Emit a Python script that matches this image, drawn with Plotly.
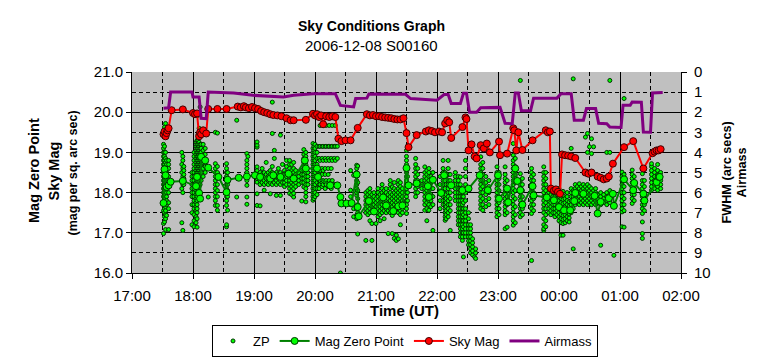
import plotly.graph_objects as go

# ---------------- data ----------------
airmass_times = ["17:31", "17:36", "17:38", "17:59", "18:00", "18:06", "18:08", "18:13", "18:15", "18:40",
                 "18:59", "19:29", "19:39", "19:58", "20:20", "20:25", "20:38", "20:40", "20:51", "20:53",
                 "21:29", "21:34", "22:00", "22:07", "22:11", "22:14", "22:23", "22:26", "22:29", "22:32",
                 "22:39", "22:43", "23:02", "23:07", "23:14", "23:17", "23:20", "23:23", "23:32", "23:35",
                 "23:58", "00:02", "00:12", "00:15", "00:24", "00:27", "00:36", "00:39", "00:47", "00:50",
                 "01:01", "01:03", "01:10", "01:12", "01:21", "01:23", "01:30", "01:32", "01:42"]
airmass_values = [1.80, 1.78, 1.00, 1.00, 1.24, 1.24, 2.30, 2.32, 1.00, 1.04,
                  1.16, 1.24, 1.16, 1.08, 1.08, 1.66, 1.74, 1.32, 1.30, 1.10,
                  1.11, 1.32, 1.40, 1.12, 1.12, 1.57, 1.57, 1.06, 1.06, 2.00,
                  2.00, 1.78, 1.76, 2.55, 2.57, 1.04, 1.04, 1.93, 1.93, 1.30,
                  1.30, 1.08, 1.08, 2.40, 2.40, 1.82, 1.82, 2.55, 2.57, 2.74,
                  2.76, 1.66, 1.66, 1.49, 1.50, 2.99, 3.00, 1.04, 1.02]

sky_times = ["17:31", "17:32", "17:33", "17:34", "17:35", "17:36", "17:39", "17:50", "18:00", "18:02",
             "18:04", "18:06", "18:07", "18:08", "18:10", "18:13", "18:15", "18:24", "18:33", "18:44",
             "18:47", "18:50", "18:52", "18:55", "18:58", "19:01", "19:04", "19:07", "19:10", "19:13",
             "19:16", "19:19", "19:23", "19:27", "19:32", "19:36", "19:39", "19:51", "19:58", "20:00",
             "20:02", "20:04", "20:06", "20:08", "20:11", "20:14", "20:17", "20:20", "20:23", "20:26",
             "20:30", "20:35", "20:42", "20:51", "20:54", "20:57", "21:00", "21:03", "21:06", "21:09",
             "21:12", "21:15", "21:18", "21:21", "21:24", "21:27", "21:30", "21:32", "21:40", "21:49",
             "21:52", "21:55", "21:58", "22:02", "22:05", "22:08", "22:10", "22:12", "22:14", "22:25",
             "22:28", "22:29", "22:31", "22:34", "22:37", "22:39", "22:43", "22:46", "22:49", "22:52",
             "23:01", "23:02", "23:09", "23:15", "23:16", "23:18", "23:20", "23:24", "23:34", "23:47",
             "23:49", "23:51", "23:52", "23:55", "23:57", "23:59", "00:01", "00:03", "00:06", "00:09",
             "00:12", "00:16", "00:26", "00:29", "00:32", "00:38", "00:41", "00:44", "00:47", "00:49",
             "00:53", "01:04", "01:13", "01:23", "01:32", "01:34", "01:36", "01:38", "01:40"]
sky_values = [19.45, 19.52, 19.40, 19.48, 19.55, 19.60, 20.05, 20.07, 19.98, 19.95,
              19.97, 19.40, 19.50, 19.45, 19.55, 19.47, 20.08, 20.08, 20.08, 20.14,
              20.12, 20.15, 20.12, 20.10, 20.13, 20.10, 20.08, 20.03, 20.00, 19.98,
              19.95, 19.93, 19.92, 19.90, 19.85, 19.80, 19.80, 19.81, 19.96, 19.92,
              19.95, 19.88, 19.92, 19.70, 19.90, 19.88, 19.90, 19.88, 19.34, 19.28,
              19.30, 19.30, 19.61, 19.95, 19.92, 19.93, 19.90, 19.90, 19.88, 19.87,
              19.86, 19.85, 19.83, 19.82, 19.82, 19.85, 19.48, 19.13, 19.43, 19.52,
              19.55, 19.53, 19.50, 19.52, 19.50, 19.72, 19.80, 19.75, 19.36, 19.63,
              19.87, 19.83, 19.05, 19.20, 18.90, 18.85, 19.18, 19.10, 19.22, 19.00,
              19.27, 18.93, 18.97, 19.60, 19.55, 19.05, 19.50, 19.06, 19.30, 19.55,
              19.50, 19.52, 18.10, 18.05, 18.08, 18.02, 17.97, 18.95, 18.93, 18.92,
              18.90, 18.86, 18.50, 18.47, 18.50, 18.40, 18.37, 18.33, 18.35, 18.40,
              18.72, 19.13, 19.28, 18.60, 18.98, 19.02, 19.05, 19.05, 19.08]

mzp_times = ["17:31", "17:32", "17:33", "17:34", "17:36", "17:38", "17:50", "18:03", "18:04", "18:06",
             "18:07", "18:08", "18:12", "18:15", "18:25", "18:33", "18:34", "18:45", "18:53", "19:01",
             "19:06", "19:16", "19:19", "19:26", "19:34", "19:39", "19:50", "19:51", "20:02", "20:03",
             "20:15", "20:22", "20:25", "20:26", "20:31", "20:36", "20:41", "20:42", "20:43", "20:53",
             "20:58", "21:07", "21:10", "21:17", "21:22", "21:26", "21:30", "21:32", "21:40", "21:51",
             "21:52", "21:56", "22:04", "22:07", "22:14", "22:25", "22:31", "22:42", "22:50", "23:00",
             "23:01", "23:09", "23:10", "23:17", "23:19", "23:22", "23:24", "23:34", "23:35", "23:48",
             "23:55", "00:00", "00:05", "00:11", "00:15", "00:16", "00:24", "00:35", "00:38", "00:41",
             "00:49", "00:53", "00:54", "01:04", "01:13", "01:14", "01:23", "01:24", "01:36", "01:38",
             "01:39"]
mzp_values = [17.74, 18.58, 18.43, 18.14, 18.18, 18.27, 18.29, 18.16, 18.39, 17.99,
              17.85, 18.89, 18.80, 18.62, 18.39, 18.01, 18.32, 18.37, 18.40, 18.43,
              18.39, 18.35, 18.43, 18.39, 18.47, 18.35, 18.80, 18.60, 18.60, 18.39,
              18.18, 18.18, 17.89, 17.73, 17.73, 17.74, 18.45, 17.64, 17.41, 17.79,
              17.53, 17.88, 17.68, 17.54, 17.66, 17.68, 18.61, 18.18, 18.23, 18.16,
              17.89, 18.32, 17.99, 18.43, 18.18, 18.06, 18.10, 18.43, 18.06, 18.43,
              17.85, 18.10, 17.76, 18.60, 18.29, 18.06, 17.70, 18.16, 17.93, 17.88,
              17.81, 17.64, 17.56, 17.56, 17.79, 17.99, 17.97, 17.92, 17.48, 17.77,
              17.86, 17.97, 17.67, 18.33, 18.06, 18.24, 17.97, 17.80, 18.26, 18.39,
              18.39]

# ZP: individual zero-point measurements, grouped by time stamp
zp_times = ["17:31", "17:32", "17:33", "17:34", "17:36", "17:49", "17:50", "17:51", "17:59", "18:01",
            "18:03", "18:04", "18:05", "18:06", "18:07", "18:08", "18:10", "18:12", "18:15", "18:22",
            "18:24", "18:33", "18:34", "18:43", "18:53", "18:54", "19:03", "19:06", "19:08", "19:10",
            "19:12", "19:14", "19:16", "19:18", "19:20", "19:22", "19:24", "19:26", "19:28", "19:30",
            "19:32", "19:35", "19:37", "19:39", "19:41", "19:44", "19:47", "19:49", "19:51", "19:53",
            "19:58", "19:59", "20:00", "20:02", "20:04", "20:05", "20:07", "20:08", "20:10", "20:11",
            "20:13", "20:14", "20:16", "20:17", "20:19", "20:20", "20:22", "20:25", "20:35", "20:38",
            "20:41", "20:42", "20:50", "20:52", "20:54", "20:56", "20:58", "21:00", "21:02", "21:04",
            "21:06", "21:08", "21:10", "21:12", "21:14", "21:16", "21:18", "21:20", "21:22", "21:24",
            "21:26", "21:30", "21:31", "21:39", "21:41", "21:45", "21:48", "21:50", "21:52", "21:54",
            "21:56", "22:03", "22:06", "22:08", "22:09", "22:11", "22:13", "22:18", "22:21", "22:23",
            "22:25", "22:26", "22:28", "22:31", "22:33", "22:35", "22:37", "22:38", "22:43", "22:45",
            "22:48", "22:51", "22:59", "23:01", "23:07", "23:09", "23:15", "23:17", "23:22", "23:24",
            "23:33", "23:35", "23:45", "23:47", "23:50", "23:52", "23:54", "23:56", "23:58", "00:00",
            "00:02", "00:04", "00:06", "00:08", "00:10", "00:12", "00:14", "00:16", "00:18", "00:20",
            "00:22", "00:24", "00:26", "00:28", "00:30", "00:32", "00:34", "00:36", "00:38", "00:41",
            "00:44", "00:47", "00:50", "00:54", "01:02", "01:04", "01:12", "01:14", "01:22", "01:24",
            "01:31", "01:34", "01:37", "01:40"]
zp_values = [
    [16.98, 17.23, 17.55, 17.75, 17.9, 18.0, 18.1, 18.2, 18.3, 18.4, 18.5, 18.6, 18.7, 18.8, 18.9, 19.0, 19.1, 19.2],
    [17.27, 17.4, 17.5, 17.6, 17.7, 17.8, 17.9, 18.0, 18.1, 18.2, 18.3, 18.4, 18.5, 18.6, 18.7, 18.8, 18.9, 19.0, 19.15, 19.63],
    [17.08, 17.35, 17.45, 17.55, 17.65, 17.75, 17.85, 17.95, 18.05, 18.15, 18.25, 18.35, 18.45, 18.55, 18.65, 18.75, 18.85, 19.0, 19.72],
    [17.43, 17.7, 17.8, 17.9, 18.0, 18.1, 18.2, 18.3, 18.4, 18.5, 18.6, 18.7, 18.8],
    [17.08, 17.6, 17.75, 18.0, 18.2, 18.4, 18.6, 18.7, 18.8],
    [17.25, 18.1, 18.3, 18.5, 18.7, 19.0],
    [17.06, 18.0, 18.2, 18.4, 18.6, 18.8, 18.9],
    [18.2, 18.35, 18.45, 18.55, 18.65],
    [17.2, 17.5, 17.7, 17.9, 18.0, 18.1, 18.2, 18.3, 18.4, 18.5],
    [17.15, 17.3, 17.45, 17.6, 17.7, 17.8, 17.9, 18.0, 18.1, 18.2, 18.3, 18.4, 18.5, 18.6, 18.7, 18.8, 18.9, 19.0],
    [17.25, 17.4, 17.55, 17.65, 17.75, 17.85, 17.95, 18.05, 18.15, 18.25, 18.35, 18.45, 18.55, 18.65, 18.75, 18.85, 18.95, 19.05, 19.15, 19.25],
    [17.14, 17.35, 17.5, 17.6, 17.7, 17.8, 17.9, 18.0, 18.1, 18.2, 18.3, 18.4, 18.5, 18.6, 18.7, 18.8, 18.9, 19.0, 19.1, 19.2, 19.3],
    [18.2, 18.3, 18.4, 18.5, 18.6, 18.7, 18.8, 18.9, 19.0, 19.1, 19.2, 19.3, 19.45, 19.92],
    [18.0, 18.15, 18.3, 18.45, 18.55, 18.65, 18.75, 18.85, 18.95, 19.05, 19.15, 19.25, 19.6],
    [17.9, 18.2, 18.4, 18.5, 18.6, 18.7, 18.8, 18.9, 19.0, 19.1, 19.2, 20.13],
    [18.3, 18.5, 18.6, 18.7, 18.8, 18.9, 19.0, 19.1, 19.2, 19.5],
    [18.4, 18.6, 18.75, 18.9, 19.05, 19.2],
    [18.5, 18.65, 18.8, 18.95, 19.1],
    [17.89],
    [17.68, 17.8, 17.9, 18.0, 18.1, 18.2, 18.3, 18.4, 18.5, 18.6, 18.72, 19.5],
    [17.56, 17.68, 17.9, 18.05, 18.2, 18.35, 18.5, 18.65, 19.48],
    [17.15, 17.2, 17.68, 17.8, 17.9, 18.0, 18.1, 18.2, 18.3, 18.4, 18.5, 18.6, 18.72],
    [17.56, 17.9, 18.05, 18.2, 18.35, 18.5],
    [17.89, 19.8],
    [17.71, 17.89, 18.18, 18.3, 18.4, 18.5, 18.6, 18.7, 18.8, 18.97],
    [18.9],
    [17.68, 17.97, 18.26, 18.35, 18.45, 18.55, 18.64, 19.13, 19.18, 19.26],
    [17.67, 18.2, 18.3, 18.4, 18.5],
    [18.25, 18.35, 18.45, 18.6],
    [18.06, 18.2, 18.3, 18.4, 18.5],
    [18.25, 18.35, 18.45, 18.75],
    [18.2, 18.3, 18.4, 18.5],
    [17.97, 18.25, 18.35, 18.45, 18.55],
    [18.2, 18.3, 18.4, 18.5, 18.65, 19.47, 20.25],
    [18.25, 18.35, 18.45, 18.85, 19.05],
    [17.93, 18.2, 18.3, 18.4, 18.5],
    [18.25, 18.35, 18.45, 18.6],
    [17.93, 18.2, 18.3, 18.4, 18.5, 19.43],
    [18.25, 18.35, 18.45, 18.7],
    [18.15, 18.25, 18.35, 18.45, 18.55],
    [18.2, 18.3, 18.4, 18.5, 18.65, 18.8],
    [17.98, 18.1, 18.2, 18.3, 18.4, 18.5, 18.6, 18.7, 18.8],
    [17.95, 18.05, 18.15, 18.25, 18.35, 18.45, 18.55, 18.7],
    [17.89, 17.98, 18.1, 18.2, 18.3, 18.4, 18.5, 18.6, 18.75],
    [18.15, 18.25, 18.35, 18.45, 18.55],
    [18.2, 18.3, 18.4, 18.5],
    [17.79, 18.25, 18.35, 18.45, 18.55],
    [18.14, 18.25, 18.35, 18.45, 18.55, 18.65, 18.75, 18.85, 18.95, 19.07],
    [17.77, 17.9, 18.0, 18.1, 18.2, 18.3, 18.4, 18.5, 18.6, 18.7, 18.8, 18.9, 19.0],
    [18.2, 18.3, 18.4, 18.5],
    [17.81, 17.9, 18.0, 18.1, 18.2, 18.3, 18.4, 18.5, 18.6, 18.7, 18.8, 18.9, 19.0, 19.1, 19.22],
    [17.85, 17.95, 18.05, 18.15, 18.25, 18.35, 18.45, 18.55, 18.65, 18.75, 18.85, 18.95, 19.05, 19.15],
    [17.9, 18.0, 18.1, 18.2, 18.3, 18.4, 18.5, 18.6, 18.7, 18.8, 18.9, 19.0, 19.1, 19.2],
    [17.95, 18.1, 18.25, 18.4, 18.55, 18.7, 18.85, 19.0, 19.15],
    [19.15, 18.85, 18.6, 18.45, 18.3, 18.2, 18.1],
    [19.67, 19.15, 18.8, 18.55, 18.3, 18.2],
    [19.15, 18.85, 18.6, 18.45, 18.25, 18.15],
    [19.67, 19.15, 18.8, 18.55, 18.3, 18.2],
    [19.15, 18.85, 18.6, 18.45, 18.25, 18.1],
    [19.67, 19.15, 18.8, 18.3, 18.2],
    [19.15, 18.85, 18.6, 18.45, 18.25, 18.15],
    [19.67, 19.15, 18.8, 18.3, 18.2],
    [19.15, 18.85, 18.6, 18.25, 18.1],
    [19.67, 19.15, 18.8, 18.3],
    [19.15, 18.85, 18.2],
    [19.67, 19.15, 18.8],
    [19.15, 18.85],
    [16.0],
    [17.7, 17.9, 18.06, 18.55],
    [17.4, 17.6, 18.43],
    [17.35, 17.44, 17.6, 17.93, 18.0, 18.1, 18.2, 18.3, 18.4, 18.5, 18.6, 18.68],
    [16.97, 17.5, 17.7, 17.85, 18.05, 18.25, 18.45, 18.66],
    [16.81, 17.5, 17.6, 17.7, 17.8, 17.9, 18.0],
    [17.45, 17.55, 17.65, 17.75, 17.85, 17.95, 18.05],
    [17.3, 17.5, 17.6, 17.7, 17.8, 17.9, 18.0, 18.1],
    [16.81, 17.23, 17.55, 17.65, 17.75, 17.85, 17.95],
    [17.5, 17.6, 17.7, 17.8, 17.9, 18.0],
    [17.23, 17.55, 17.65, 17.75, 17.85],
    [17.4, 17.5, 17.6, 17.7, 17.8, 17.9, 18.0, 18.1],
    [17.3, 17.45, 17.55, 17.65, 17.75, 17.85, 17.95],
    [17.5, 17.6, 17.7, 17.8, 17.9, 18.0, 18.1, 18.2],
    [17.35, 17.55, 17.65, 17.75, 17.85, 17.95, 18.05],
    [17.5, 17.6, 17.7, 17.8, 17.9, 18.0, 18.1],
    [16.98, 17.55, 17.65, 17.75, 17.85, 17.95],
    [17.5, 17.6, 17.7, 17.8, 17.9, 18.0, 18.1, 18.2, 18.3],
    [16.98, 17.43, 17.55, 17.65, 17.75, 17.85, 17.95, 18.14],
    [16.86, 17.5, 17.6, 17.7, 17.8, 17.9, 18.0, 18.1, 18.25],
    [16.81, 16.94, 17.55, 17.65, 17.75, 17.85, 17.95, 18.05],
    [16.85, 17.5, 17.6, 17.7, 17.8, 17.9, 18.0, 18.1, 18.2, 18.3],
    [17.2, 17.45, 17.55, 17.65, 17.75, 17.85, 17.95, 18.05, 18.15, 18.25],
    [17.5, 17.6, 17.7, 17.8, 17.9, 18.0, 18.1],
    [17.48, 17.6, 17.7, 17.8, 17.9, 18.0, 18.1, 18.2, 18.3, 18.4, 18.5, 18.6, 18.7, 18.8, 18.9, 19.05],
    [17.8, 18.0, 18.2, 18.4, 18.6],
    [17.9, 18.0, 18.1, 18.2, 18.3, 18.4, 18.5, 18.6, 18.7, 18.85],
    [18.0, 18.15, 18.3, 18.45, 18.6],
    [18.1, 18.2, 18.3],
    [17.56, 17.7, 17.8, 17.9, 18.0, 18.1, 18.2, 18.3, 18.4, 18.5, 18.64],
    [17.3, 17.6, 17.75, 17.85, 17.95, 18.05, 18.15, 18.25, 18.35, 18.45, 18.55],
    [17.56, 17.7, 17.8, 17.9, 18.0, 18.1, 18.2, 18.3, 18.4, 18.5, 18.6],
    [17.65, 17.8, 17.95, 18.1, 18.25, 18.4],
    [17.06, 17.7, 17.9, 18.1, 18.3, 18.5],
    [17.6, 17.8, 18.0, 18.2, 18.4],
    [17.7, 17.8, 17.9, 18.0, 18.1, 18.2, 18.3, 18.4, 18.5, 18.6, 18.8],
    [17.31, 17.4, 17.5, 17.6, 17.7, 17.8, 17.9, 17.98, 18.1, 18.3, 18.5],
    [17.35, 17.45, 17.55, 17.65, 17.75, 17.85, 17.95, 18.2, 18.4],
    [17.4, 17.5, 17.6, 17.7, 17.8, 17.9, 18.0, 18.1, 18.2, 18.3, 18.45, 18.6, 18.8],
    [17.06, 17.55, 17.7, 17.85, 18.0, 18.15, 18.3, 18.45],
    [17.8, 17.9, 18.0, 18.1, 18.2, 18.3, 18.4, 18.5],
    [17.2, 17.3, 17.4, 17.5, 17.6, 17.7, 17.8, 17.9, 18.0, 18.1, 18.2, 18.3, 18.4],
    [16.9, 17.0, 17.1, 17.2, 17.3, 17.4, 17.5, 17.6, 17.7, 17.8, 17.9, 18.0, 18.1, 18.2, 18.39],
    [16.81, 16.9, 17.0, 17.1, 17.2, 17.3, 17.4, 17.5, 17.6, 17.7, 17.8, 17.9, 18.0, 18.1],
    [16.4, 17.0, 17.15, 17.3, 17.45, 17.6, 17.75, 17.9],
    [16.9, 17.0, 17.1, 17.2, 17.3, 17.4, 17.5, 17.6, 17.8, 18.0, 18.2, 18.4, 18.6, 18.8],
    [16.7, 16.8, 16.9, 17.0, 17.1, 17.2, 17.35, 17.5],
    [16.5, 16.6, 16.7, 16.8, 16.9, 17.0, 17.1, 17.2],
    [16.45, 16.55, 16.65, 16.75, 16.85],
    [16.4],
    [16.36, 16.5, 16.6],
    [17.6, 17.7, 17.8, 17.9, 18.0, 18.1, 18.2, 18.3, 18.4, 18.5, 18.6, 18.7, 18.89],
    [17.56, 17.7, 17.85, 18.0, 18.15, 18.3, 18.45, 18.6, 18.75],
    [17.65, 17.8, 17.95, 18.1, 18.25, 18.4],
    [17.7, 17.85, 18.0, 18.15, 18.3],
    [17.4, 17.5, 17.6, 17.7, 17.8, 17.9, 18.0, 18.1, 18.2, 18.3, 18.4, 18.5, 18.64],
    [17.45, 17.6, 17.75, 17.9, 18.05, 18.2, 18.35, 18.5],
    [17.1, 17.45, 17.55, 17.65, 17.75, 17.85, 17.95, 18.05, 18.15, 18.25, 18.35, 18.45, 18.64],
    [17.14, 17.5, 17.7, 17.9, 18.1, 18.3],
    [17.19, 17.3, 17.4, 17.5, 17.6, 17.7, 17.8, 17.9, 18.0, 18.1, 18.2, 18.3, 18.4, 18.5, 18.6, 18.7, 18.8, 18.93, 19.22],
    [17.25, 17.45, 17.65, 17.85, 18.05, 18.25, 18.45, 18.65, 18.85, 19.05],
    [17.4, 17.5, 17.6, 17.7, 17.8, 17.9, 18.0, 18.1, 18.2, 18.3, 18.47, 20.79],
    [17.45, 17.6, 17.75, 17.9, 18.05, 18.2, 18.35],
    [16.31, 17.48, 17.6, 17.7, 17.8, 17.9, 18.0, 18.1, 18.2, 18.3, 18.4, 18.5, 18.6],
    [17.55, 17.7, 17.85, 18.0, 18.15, 18.3, 18.45],
    [17.06, 17.1, 17.2, 17.35, 17.5, 17.6, 17.7, 17.8, 17.9, 18.0, 18.1, 18.2, 18.3, 18.4, 18.5, 18.64],
    [17.15, 17.3, 17.45, 17.6, 17.75, 17.9, 18.05, 18.2, 18.35, 18.5],
    [17.5, 17.6, 17.7, 17.8, 17.9, 18.0, 18.1],
    [17.45, 17.55, 17.65, 17.75, 17.85, 17.95, 18.05],
    [17.5, 17.6, 17.7, 17.8, 17.9, 18.0],
    [17.4, 17.5, 17.6, 17.7, 17.8, 17.9, 18.0, 18.1],
    [17.45, 17.55, 17.65, 17.75, 17.85, 17.95],
    [17.3, 17.4, 17.5, 17.6, 17.7, 17.8, 17.9, 18.0, 18.1],
    [16.94, 17.25, 17.35, 17.45, 17.55, 17.65, 17.75, 17.85, 17.95],
    [16.94, 17.23, 17.33, 17.43, 17.53, 17.63, 17.73, 17.83, 17.93, 18.03],
    [17.25, 17.35, 17.45, 17.55, 17.65, 17.75, 17.85],
    [17.3, 17.4, 17.5, 17.6, 17.7, 17.8, 17.9, 18.0],
    [17.27, 17.37, 17.47, 17.57, 17.67, 17.77],
    [17.5, 17.6, 17.7, 17.8, 17.9, 18.0, 18.1, 19.1],
    [16.6, 17.6, 17.75, 17.9, 18.05, 20.83],
    [17.7, 17.8, 17.9, 18.0, 18.1, 18.2],
    [17.75, 17.85, 17.95, 18.05, 18.15],
    [17.7, 17.8, 17.9, 18.0, 18.1, 18.22],
    [17.75, 17.85, 17.95, 18.05, 18.15],
    [17.7, 17.8, 17.9, 18.0, 18.1, 18.2],
    [17.75, 17.85, 17.95, 18.05, 18.15, 19.38],
    [17.7, 17.8, 17.9, 18.0, 18.1, 18.2, 19.0, 19.47],
    [17.75, 17.85, 17.95, 18.05, 18.15, 19.14],
    [17.7, 17.8, 17.9, 18.0, 18.1, 18.97, 19.34],
    [17.75, 17.85, 17.95, 18.05, 19.14],
    [17.7, 17.8, 17.9, 18.0, 18.1],
    [17.75, 17.85, 17.95],
    [16.69, 17.7, 17.8, 17.9, 18.0],
    [17.75, 17.85, 17.95],
    [17.7, 17.8, 17.9, 18.0, 19.0],
    [17.75, 17.85, 17.95, 18.05, 19.0, 20.79],
    [16.44],
    [17.15, 17.52, 17.6, 17.7, 17.8, 17.9, 18.0, 18.1, 18.2, 18.3, 18.4, 18.51],
    [17.14, 17.55, 17.7, 17.85, 18.0, 18.15, 18.3, 18.45, 20.34],
    [17.73, 17.85, 17.95, 18.05, 18.15, 18.25, 18.35, 18.45, 18.56],
    [17.8, 17.95, 18.1, 18.25, 18.4],
    [16.86, 16.98, 17.27, 17.48, 17.6, 17.7, 17.8, 17.9, 18.0, 18.1, 18.2, 18.3, 18.47],
    [17.55, 17.7, 17.85, 18.0, 18.15, 18.3],
    [18.06, 18.15, 18.25, 18.35, 18.45, 18.55, 18.65, 18.72],
    [18.1, 18.2, 18.3, 18.4, 18.5, 18.6],
    [18.06, 18.15, 18.25, 18.35, 18.45, 18.55, 18.7],
    [18.1, 18.2, 18.3, 18.4, 18.5],
]

x_ticks = ["17:00", "18:00", "19:00", "20:00", "21:00", "22:00", "23:00", "00:00", "01:00", "02:00"]


def to_dt(s):
    h, m = (int(p) for p in s.split(":"))
    day = 8 if h >= 12 else 9
    return f"2006-12-{day:02d} {h:02d}:{m:02d}"


zp_x, zp_y = [], []
for t, vals in zip(zp_times, zp_values):
    for v in vals:
        zp_x.append(to_dt(t))
        zp_y.append(v)

FONT = "Liberation Sans, Arial, sans-serif"

fig = go.Figure()
fig.add_trace(go.Scatter(
    x=zp_x, y=zp_y, mode="markers", name="ZP",
    marker=dict(symbol="circle", size=4, color="#00FF00", line=dict(color="#003300", width=1)),
))
fig.add_trace(go.Scatter(
    x=[to_dt(t) for t in mzp_times], y=mzp_values, mode="lines+markers", name="Mag Zero Point",
    line=dict(color="#008000", width=2),
    marker=dict(symbol="circle", size=7, color="#00FF00", line=dict(color="#003300", width=1)),
))
fig.add_trace(go.Scatter(
    x=[to_dt(t) for t in sky_times], y=sky_values, mode="lines+markers", name="Sky Mag",
    line=dict(color="#FF0000", width=2),
    marker=dict(symbol="circle", size=7, color="#FF0000", line=dict(color="#400000", width=1)),
))
fig.add_trace(go.Scatter(
    x=[to_dt(t) for t in airmass_times], y=airmass_values, mode="lines", name="Airmass",
    line=dict(color="#800080", width=3), yaxis="y2",
))

dash = "4px,3px"
# the page body adds an 8px offset, so the figure is 8px smaller and shifted up-left
fig.update_layout(
    width=756, height=349,
    margin=dict(l=124, r=83, t=64, b=84, autoexpand=False),
    paper_bgcolor="white", plot_bgcolor="#C0C0C0",
    font=dict(family=FONT, size=15, color="black"),
    xaxis=dict(
        type="date",
        range=[to_dt("17:00"), to_dt("02:00")],
        tickmode="array", tickvals=[to_dt(t) for t in x_ticks], ticktext=x_ticks,
        showgrid=True, gridcolor="black", gridwidth=1,
        minor=dict(dtick=1800000, tick0=to_dt("17:00"), showgrid=True, gridcolor="black",
                   griddash=dash, gridwidth=1, ticklen=0),
        ticks="outside", ticklen=5, tickcolor="black", ticklabelstandoff=4,
        showline=True, linecolor="black", linewidth=1, zeroline=False,
        tickfont=dict(size=15), automargin=False,
    ),
    yaxis=dict(
        range=[16, 21], dtick=1, tickformat=".1f",
        showgrid=True, gridcolor="black", gridwidth=1,
        minor=dict(dtick=0.5, showgrid=True, gridcolor="black", griddash=dash, gridwidth=1, ticklen=0),
        ticks="outside", ticklen=5, tickcolor="black",
        showline=True, linecolor="black", linewidth=1, zeroline=False,
        tickfont=dict(size=15), automargin=False,
    ),
    yaxis2=dict(
        overlaying="y", side="right", range=[10, 0], dtick=1,
        showgrid=False, zeroline=False,
        ticks="outside", ticklen=5, tickcolor="black", ticklabelstandoff=4,
        showline=True, linecolor="black", linewidth=1,
        tickfont=dict(size=15), automargin=False,
    ),
    showlegend=True,
    legend=dict(
        orientation="h", xref="paper", yref="paper", x=0.4973, y=-0.2587,
        xanchor="center", yanchor="top",
        bordercolor="black", borderwidth=1, bgcolor="white",
        font=dict(family=FONT, size=13),
        itemwidth=30, tracegroupgap=0,
    ),
)

ann = [
    dict(text="<b>Sky Conditions Graph</b>", x=0.437, y=1.229, size=14),
    dict(text="2006-12-08 S00160", x=0.437, y=1.13, size=15),
    dict(text="<b>Time (UT)</b>", x=0.4964, y=-0.189, size=15),
]
for a in ann:
    fig.add_annotation(text=a["text"], x=a["x"], y=a["y"], xref="paper", yref="paper",
                       showarrow=False, xanchor="center", yanchor="middle",
                       font=dict(family=FONT, size=a["size"], color="black"))

rot = [
    dict(text="<b>Mag Zero Point</b>", x=-0.1785, y=0.5075, size=14.5),
    dict(text="<b>Sky Mag</b>", x=-0.1412, y=0.5075, size=14.5),
    dict(text="<b>(mag per sq. arc sec)</b>", x=-0.1075, y=0.5, size=12.5),
    dict(text="<b>FWHM (arc secs)</b>", x=1.082, y=0.5, size=12.7),
    dict(text="<b>Airmass</b>", x=1.111, y=0.5, size=12.7),
]
for a in rot:
    fig.add_annotation(text=a["text"], x=a["x"], y=a["y"], xref="paper", yref="paper",
                       showarrow=False, xanchor="center", yanchor="middle", textangle=-90,
                       font=dict(family=FONT, size=a["size"], color="black"))

fig.write_html("out.html")
